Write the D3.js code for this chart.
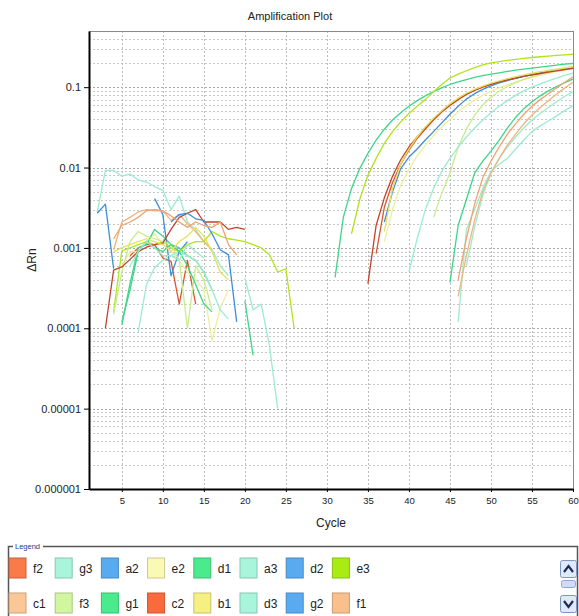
<!DOCTYPE html>
<html>
<head>
<meta charset="utf-8">
<title>Amplification Plot</title>
<script src="https://cdn.jsdelivr.net/npm/d3@7"></script>
<style>
  body { margin: 0; background: #fff; }
  text { font-family: "Liberation Sans", Arial, sans-serif; }
</style>
</head>
<body>
<script>
// Samples, in the order the legend shows them
var samples = ["f2", "g3", "a2", "e2", "d1", "a3", "d2", "e3",
               "c1", "f3", "g1", "c2", "b1", "d3", "g2", "f1"];
// Swatch colours in the legend, and the (slightly deeper) colours the curves are drawn with
var sampleColors = ["#f97a4a", "#a8f5dc", "#5aaaf0", "#fafab4", "#4aeb8c", "#a8f5dc", "#5aaaf0", "#a8ec14",
                    "#fac896", "#d2f5a0", "#4aeb8c", "#f96a3c", "#f5f082", "#a8f5dc", "#5aaaf0", "#fac08c"];
var lineColors = ["#d8572e", "#9deccf", "#3f8ed8", "#eeeea0", "#3cd68a", "#9deccf", "#3f8ed8", "#b0e41c",
                  "#f0b47e", "#c8ec8c", "#3cd68a", "#c0432a", "#e6e05a", "#9deccf", "#3f8ed8", "#eea470"];

// Baseline region: first cycle of each sample, then one delta Rn per cycle (null = not plotted)
var baseStart = [6, 2, 2, 5, 5, 7, 9, 4, 4, 4, 5, 3, 4, 6, 11, 4];
var baseValues = [
  [0.0008, 0.001, 0.0011, 0.0011, 0.00075, 0.00068, 0.0002, 0.0007, 0.0002],
  [0.0028, 0.0092, 0.0092, 0.0078, 0.0083, 0.007, 0.0066, 0.0058, 0.0052, 0.003, 0.0044, 0.0021, 0.0017, 0.0012, 0.00095, 0.0006, 0.00045],
  [0.0027, 0.0035, 0.00055],
  [0.0006, 0.0009, 0.0009, 0.0012, 0.0015, 0.0011, 0.0009, 0.0007, 0.0005, 0.0004, 0.0003, 0.00007, 0.00018, 0.0003],
  [0.00011, 0.00036, 0.001, 0.0011, 0.0017, 0.0014, 0.0011, 0.001, 0.0008, 0.0007, 0.0005, 0.0003, null, null, null, 0.00022, 0.000046],
  [0.00009, 0.00035, 0.00057, 0.0007, 0.0008, 0.0009, 0.0008, 0.0007, 0.0005, 0.0003, 0.00017, 0.00013],
  [0.0041, 0.0026, 0.00045, 0.0009, 0.0012],
  [0.00016, 0.00092, 0.001, 0.0011, 0.0012, 0.0011, 0.0012, 0.001, 0.0009, 0.0011, 0.0012, 0.0012, 0.0016, 0.0014, 0.0013, 0.00125, 0.0012, 0.0011, 0.001, 0.00082, 0.0005, 0.00055, 0.0001],
  [0.00095, 0.0021, 0.0024, 0.0028, 0.003, 0.0029, 0.0029, 0.0022, 0.0026, 0.002, 0.0016, 0.0012, 0.00095],
  [0.00015, 0.0005, 0.0012, 0.0016, 0.0014, 0.0013, 0.0012, 0.0011, 0.0007, 0.0001, 0.0006, 0.0004, 0.00017],
  [0.00012, 0.0003, 0.0009, 0.0012, 0.001, 0.0009, 0.0011, 0.0009, 0.0006, 0.00035, 0.0002, 0.00016],
  [0.0001, 0.00053, 0.00058, 0.00072, 0.0009, 0.00102, 0.0011, 0.00115, 0.0017, 0.0024, 0.0027, 0.003, 0.0021, 0.0021, 0.0021, 0.0017, 0.0018, 0.0017],
  [0.0009, 0.001, 0.0011, 0.0012, 0.0013, 0.0012, 0.0011, 0.0009, 0.0012, 0.0014, 0.0018, 0.0014, 0.0009, 0.0005, 0.0004],
  [0.0006, 0.0009, 0.0012, 0.001, 0.0008, 0.0008, 0.0007, 0.0011, 0.0009, 0.00075, null, null, null, null, 0.00042, 0.00017, 0.0002, 0.00006, 0.00001],
  [0.0021, 0.0026, 0.0027, 0.0023, 0.0022, 0.0015, 0.00095, 0.00082, 0.00012],
  [0.0013, 0.0019, 0.0021, 0.0024, 0.0029, 0.003, 0.0029, 0.0025, 0.0021, 0.0018, 0.0021, 0.0019, 0.0018, 0.0021, 0.0011, 0.00082]
];

// Exponential region: first cycle of each sample, then one delta Rn per cycle up to cycle 60
var ampStart = [36, 46, 37, 37, 31, 47, null, 33, 46, 43, 45, 35, 37, 40, null, 46];
var ampValues = [
  [0.00085, 0.0032, 0.0065, 0.011, 0.0165, 0.023, 0.03, 0.039, 0.049, 0.059, 0.07, 0.081, 0.091, 0.1, 0.108, 0.116, 0.123, 0.13, 0.137, 0.143, 0.149, 0.155, 0.161, 0.166, 0.172],
  [0.00012, 0.0017, 0.003, 0.0055, 0.009, 0.011, 0.013, 0.017, 0.022, 0.028, 0.033, 0.038, 0.044, 0.051, 0.059],
  [0.0021, 0.005, 0.0097, 0.0135, 0.017, 0.022, 0.028, 0.036, 0.046, 0.058, 0.071, 0.083, 0.094, 0.104, 0.113, 0.121, 0.129, 0.136, 0.143, 0.15, 0.157, 0.164, 0.17, 0.177],
  [0.0012, 0.003, 0.006, 0.0095, 0.014, 0.019, 0.025, 0.032, 0.04, 0.049, 0.059, 0.069, 0.079, 0.089, 0.098, 0.107, 0.116, 0.124, 0.132, 0.14, 0.148, 0.156, 0.163, 0.17],
  [0.00043, 0.0024, 0.0055, 0.0097, 0.015, 0.022, 0.03, 0.039, 0.048, 0.058, 0.068, 0.078, 0.088, 0.098, 0.108, 0.116, 0.124, 0.132, 0.139, 0.145, 0.151, 0.157, 0.163, 0.168, 0.173, 0.178, 0.183, 0.188, 0.193, 0.197],
  [0.0006, 0.0018, 0.0045, 0.0085, 0.013, 0.018, 0.024, 0.031, 0.039, 0.047, 0.056, 0.066, 0.077, 0.088],
  [],
  [0.0015, 0.004, 0.008, 0.013, 0.02, 0.028, 0.037, 0.047, 0.058, 0.07, 0.088, 0.108, 0.13, 0.145, 0.16, 0.175, 0.19, 0.2, 0.208, 0.215, 0.222, 0.228, 0.234, 0.239, 0.244, 0.249, 0.253, 0.257],
  [0.00025, 0.0008, 0.0022, 0.005, 0.0085, 0.013, 0.019, 0.026, 0.035, 0.045, 0.056, 0.068, 0.082, 0.098, 0.115],
  [0.0024, 0.0048, 0.0085, 0.018, 0.03, 0.045, 0.06, 0.075, 0.089, 0.102, 0.114, 0.125, 0.135, 0.145, 0.154, 0.163, 0.172, 0.18],
  [0.00037, 0.0019, 0.004, 0.0085, 0.012, 0.016, 0.022, 0.031, 0.042, 0.054, 0.066, 0.078, 0.09, 0.102, 0.114, 0.126],
  [0.00036, 0.0019, 0.0042, 0.0078, 0.0125, 0.018, 0.024, 0.031, 0.04, 0.05, 0.06, 0.071, 0.082, 0.092, 0.101, 0.109, 0.116, 0.123, 0.13, 0.136, 0.142, 0.148, 0.154, 0.16, 0.166, 0.171],
  [0.0016, 0.0055, 0.011, 0.017, 0.024, 0.032, 0.041, 0.051, 0.062, 0.073, 0.084, 0.094, 0.103, 0.112, 0.12, 0.128, 0.135, 0.142, 0.149, 0.156, 0.162, 0.168, 0.174, 0.18],
  [0.0005, 0.0013, 0.003, 0.0055, 0.009, 0.013, 0.018, 0.024, 0.031, 0.039, 0.048, 0.058, 0.068, 0.079, 0.09, 0.1, 0.11, 0.12, 0.13, 0.14, 0.15],
  [],
  [0.0004, 0.0013, 0.0035, 0.0075, 0.012, 0.018, 0.026, 0.035, 0.046, 0.058, 0.07, 0.083, 0.098, 0.115, 0.135]
];

var xTicks = [5, 10, 15, 20, 25, 30, 35, 40, 45, 50, 55, 60];
var yTicks = [0.1, 0.01, 0.001, 0.0001, 0.00001, 0.000001];
var yTickLabels = ["0.1", "0.01", "0.001", "0.0001", "0.00001", "0.000001"];

var w = 579, h = 616;
var plotLeft = 89, plotTop = 31, plotRight = 573, plotBottom = 489;

var svg = d3.select("body").append("svg").attr("width", w).attr("height", h);

var x = d3.scaleLinear().domain([1, 60]).range([plotLeft, plotRight]);
var y = d3.scaleLog().domain([0.000001, 0.5]).range([plotBottom, plotTop]);

// Title
svg.append("text").attr("x", 290).attr("y", 20).attr("text-anchor", "middle")
   .style("font-size", "11px").attr("fill", "#222").text("Amplification Plot");

// Grid lines
var minor = y.ticks().filter(function(d) { return d < 0.5; });
svg.append("g").selectAll("line").data(minor).enter().append("line")
   .attr("x1", plotLeft).attr("x2", plotRight)
   .attr("y1", function(d) { return Math.round(y(d)) + 0.5; })
   .attr("y2", function(d) { return Math.round(y(d)) + 0.5; })
   .attr("stroke", function(d) { return yTicks.indexOf(d) >= 0 ? "#a8a8a8" : "#c8c8c8"; })
   .attr("stroke-dasharray", "2,2");
svg.append("g").selectAll("line").data(xTicks.slice(0, -1)).enter().append("line")
   .attr("x1", function(d) { return Math.round(x(d)) + 0.5; })
   .attr("x2", function(d) { return Math.round(x(d)) + 0.5; })
   .attr("y1", plotTop).attr("y2", plotBottom)
   .attr("stroke", "#bcbcbc").attr("stroke-dasharray", "2,2");

// Curves
var line = d3.line()
  .defined(function(d) { return d.v != null; })
  .x(function(d) { return x(d.c); })
  .y(function(d) { return y(d.v); });

function toPoints(start, values) {
  return values.map(function(v, k) { return {c: start + k, v: v}; });
}

var curves = svg.append("g");
samples.forEach(function(s, i) {
  var segs = [toPoints(baseStart[i], baseValues[i])];
  if (ampStart[i] != null) segs.push(toPoints(ampStart[i], ampValues[i]));
  segs.forEach(function(pts) {
    curves.append("path").datum(pts).attr("d", line)
      .attr("fill", "none").attr("stroke", lineColors[i]).attr("stroke-width", 1.3)
      .attr("stroke-linejoin", "round");
  });
});

// Frame: grey top/right, black axes
svg.append("line").attr("x1", plotLeft).attr("x2", plotRight).attr("y1", plotTop + 0.5).attr("y2", plotTop + 0.5).attr("stroke", "#8a8a8a");
svg.append("line").attr("x1", plotRight + 0.5).attr("x2", plotRight + 0.5).attr("y1", plotTop).attr("y2", plotBottom).attr("stroke", "#8a8a8a");

var xAxis = d3.axisBottom(x).tickValues(xTicks).tickSize(3).tickSizeOuter(0);
var gx = svg.append("g").attr("transform", "translate(0," + plotBottom + ")").call(xAxis);
gx.select(".domain").attr("stroke", "#000").attr("stroke-width", 2);
gx.selectAll("text").style("font-size", "9.5px").attr("fill", "#222").attr("dy", "0.95em");

var yAxis = d3.axisLeft(y).tickValues(yTicks).tickFormat(function(d, k) { return yTickLabels[k]; })
              .tickSize(5).tickSizeOuter(0);
var gy = svg.append("g").attr("transform", "translate(" + plotLeft + ",0)").call(yAxis);
gy.select(".domain").attr("stroke", "#000").attr("stroke-width", 2);
gy.selectAll("text").style("font-size", "11px").attr("fill", "#222");

// Axis titles
svg.append("text").attr("x", (plotLeft + plotRight) / 2).attr("y", 527).attr("text-anchor", "middle")
   .style("font-size", "12px").attr("fill", "#222").text("Cycle");
svg.append("text").attr("transform", "translate(36,260) rotate(-90)").attr("text-anchor", "middle")
   .style("font-size", "12px").attr("fill", "#222").text("ΔRn");

// Legend frame
var lg = svg.append("g");
lg.append("path").attr("d", "M8.5,616 V546.5 H577.5 V616").attr("fill", "none").attr("stroke", "#555").attr("stroke-width", 1.5);
lg.append("rect").attr("x", 13).attr("y", 541).attr("width", 30).attr("height", 10).attr("fill", "#fff");
lg.append("text").attr("x", 15).attr("y", 549).style("font-size", "7.5px").attr("fill", "#1a3a8a").text("Legend");

var items = lg.selectAll("g.item").data(samples).enter().append("g")
  .attr("transform", function(d, i) { return "translate(" + (9 + (i % 8) * 46.2) + "," + (558 + Math.floor(i / 8) * 35) + ")"; });
items.append("rect").attr("width", 17).attr("height", 20)
  .attr("fill", function(d, i) { return sampleColors[i]; })
  .attr("stroke", function(d, i) { return d3.color(sampleColors[i]).darker(0.6).formatHex(); });
items.append("text").attr("x", 24).attr("y", 15).style("font-size", "12px").attr("fill", "#222")
  .text(function(d) { return d; });

// Scroll buttons
function scrollButton(yTop, up) {
  lg.append("rect").attr("x", 560.5).attr("y", yTop + 0.5).attr("width", 16).attr("height", 17).attr("rx", 2)
    .attr("fill", "#dfe9f8").attr("stroke", "#7d97c4");
  var p = up ? "M564,"+(yTop+12)+" L568.5,"+(yTop+6)+" L573,"+(yTop+12)
             : "M564,"+(yTop+6)+" L568.5,"+(yTop+12)+" L573,"+(yTop+6);
  lg.append("path").attr("d", p).attr("fill", "none").attr("stroke", "#1d2d5a").attr("stroke-width", 2.2);
}
scrollButton(560, true);
lg.append("rect").attr("x", 561.5).attr("y", 580.5).attr("width", 14).attr("height", 7).attr("rx", 2)
  .attr("fill", "#cfdcf2").attr("stroke", "#8ea6cf");
scrollButton(595, false);
</script>
</body>
</html>
